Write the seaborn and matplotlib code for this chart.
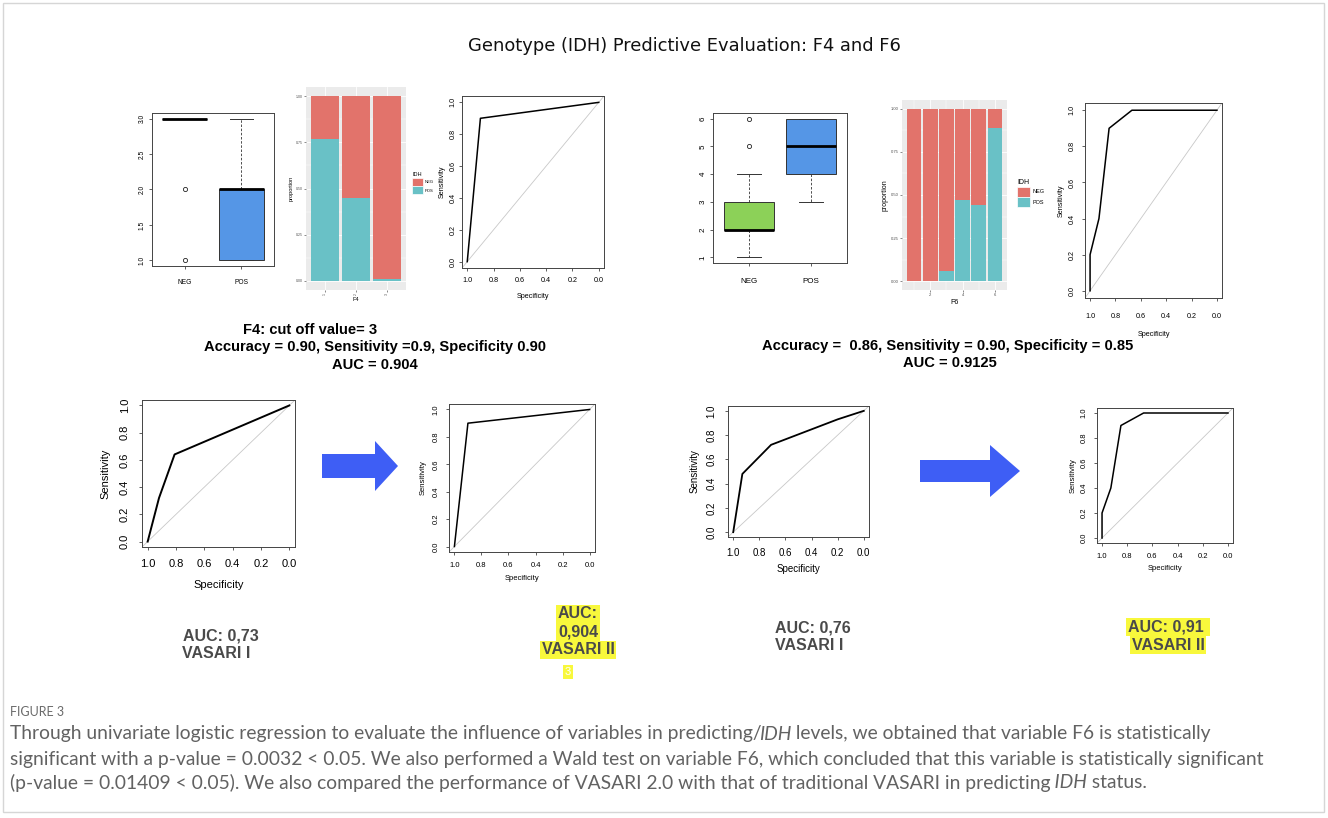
import matplotlib
matplotlib.use('Agg')
import matplotlib.pyplot as plt
from matplotlib import font_manager
from matplotlib.patches import FancyArrow, Patch, Rectangle
import numpy as np
import pandas as pd
import seaborn as sns

W, H = 1328, 818

# ---- values ----
groups = ['NEG', 'POS']
# raw scores behind the two boxplots
f4_neg = [3] * 12 + [2, 1]
f4_pos = [1] * 5 + [2] * 8 + [3]
f6_neg = [1, 1, 2, 2, 2, 2, 2, 2, 3, 3, 3, 3, 4, 5, 6]
f6_pos = [3, 4, 4, 4, 5, 5, 5, 6, 6, 6, 6]

# proportion of IDH status per level
f4_levels = [1, 2, 3]
f4_prop_pos = [0.77, 0.45, 0.01]
f4_prop_neg = [0.23, 0.55, 0.99]
f6_levels = [1, 2, 3, 4, 5, 6]
f6_prop_pos = [0.0, 0.0, 0.06, 0.47, 0.44, 0.89]
f6_prop_neg = [1.0, 1.0, 0.94, 0.53, 0.56, 0.11]

# ROC curves (specificity, sensitivity)
roc_f4_spec = [1.0, 0.9, 0.0]
roc_f4_sens = [0.0, 0.9, 1.0]
roc_f6_spec = [1.0, 1.0, 0.93, 0.85, 0.67, 0.0]
roc_f6_sens = [0.0, 0.2, 0.4, 0.9, 1.0, 1.0]
roc_v1_f4_spec = [1.0, 0.92, 0.81, 0.0]
roc_v1_f4_sens = [0.0, 0.32, 0.64, 1.0]
roc_v1_f6_spec = [1.0, 0.93, 0.71, 0.2, 0.0]
roc_v1_f6_sens = [0.0, 0.48, 0.72, 0.93, 1.0]

roc_ticks = [1.0, 0.8, 0.6, 0.4, 0.2, 0.0]
prop_ticks = [0.0, 0.25, 0.5, 0.75, 1.0]

NEG_C = '#E2736B'
POS_C = '#69C1C6'
BLUE_BOX = '#5596E6'
GREEN_BOX = '#8CD158'

available = {f.name for f in font_manager.fontManager.ttflist}
NARROW = 'Liberation Sans Narrow' if 'Liberation Sans Narrow' in available else None

plt.rcParams['font.family'] = ['Liberation Sans', 'DejaVu Sans']

fig = plt.figure(figsize=(W / 100, H / 100), dpi=100)


def box(x0, y0, x1, y1):
    """pixel box (top-left origin) -> figure fraction rect"""
    return [x0 / W, 1 - y1 / H, (x1 - x0) / W, (y1 - y0) / H]


def r_axes(rect, fs, pad=2):
    ax = fig.add_axes(box(*rect))
    for s in ax.spines.values():
        s.set_color('#444444')
        s.set_linewidth(0.7)
    ax.tick_params(direction='out', length=2.5, width=0.6, color='#444444', pad=pad, labelsize=fs)
    return ax


def roc_panel(rect, spec, sens, fs, xd, yd, lw=1.1, xpad=None, ypad=None):
    """R/pROC style ROC plot; xd, yd = pixel distance of axis titles from the frame"""
    ax = r_axes(rect, fs, pad=fs * 0.8)
    if xpad is not None:
        ax.tick_params(axis='x', pad=xpad)
    if ypad is not None:
        ax.tick_params(axis='y', pad=ypad)
    ax.axline((1, 0), (0, 1), color='#c8c8c8', lw=0.6)
    sns.lineplot(x=spec, y=sens, sort=False, estimator=None, color='black', lw=lw, ax=ax)
    ax.set_xlim(1.04, -0.04)
    ax.set_ylim(-0.04, 1.04)
    ax.set_xticks(roc_ticks)
    ax.set_xticklabels([f'{t:.1f}' for t in roc_ticks])
    ax.set_yticks(roc_ticks)
    ax.set_yticklabels([f'{t:.1f}' for t in roc_ticks], rotation=90, va='center')
    ax.set_xlabel('Specificity', fontsize=fs, va='center')
    ax.set_ylabel('Sensitivity', fontsize=fs, va='center', ha='center')
    w, h = rect[2] - rect[0], rect[3] - rect[1]
    ax.xaxis.set_label_coords(0.5, -xd / h)
    ax.yaxis.set_label_coords(-yd / w, 0.5)
    return ax


def r_boxplot(rect, neg, pos, colors, yticks, ylim, fmt, fs):
    ax = r_axes(rect, fs)
    df = pd.DataFrame({'IDH': ['NEG'] * len(neg) + ['POS'] * len(pos),
                       'score': neg + pos})
    sns.boxplot(data=df, x='IDH', y='score', hue='IDH', palette=colors, legend=False,
                saturation=1, width=0.8, linecolor='#333333', linewidth=0.7, ax=ax,
                medianprops=dict(color='black', linewidth=2.0),
                whiskerprops=dict(linestyle=(0, (3, 2)), linewidth=0.6),
                capprops=dict(linewidth=0.7),
                flierprops=dict(marker='o', markerfacecolor='none', markeredgecolor='#222222',
                                markeredgewidth=0.6, markersize=3))
    ax.set_xlim(-0.58, 1.58)
    ax.set_ylim(*ylim)
    ax.set_yticks(yticks)
    ax.set_yticklabels([fmt.format(t) for t in yticks], rotation=90, va='center')
    ax.set_xlabel('')
    ax.set_ylabel('')
    ax.tick_params(axis='x', pad=fs * 1.4)
    return ax


def gg_panel(rect, levels, pos, neg, xlim, xticks, xlabel, fs_tick, fs_lab, minor_x, rot):
    ax = fig.add_axes(box(*rect))
    ax.set_facecolor('#EBEBEB')
    for s in ax.spines.values():
        s.set_visible(False)
    tops = np.add(pos, neg)
    sns.barplot(x=levels, y=tops, color=NEG_C, saturation=1, width=0.9, native_scale=True,
                errorbar=None, linewidth=0, ax=ax)
    sns.barplot(x=levels, y=pos, color=POS_C, saturation=1, width=0.9, native_scale=True,
                errorbar=None, linewidth=0, ax=ax)
    ax.set_xlim(*xlim)
    ax.set_ylim(-0.05, 1.05)
    ax.set_xticks(xticks)
    ax.set_xticklabels([str(t) for t in xticks], rotation=rot)
    ax.set_yticks(prop_ticks)
    ax.set_yticklabels([f'{t:.2f}' for t in prop_ticks])
    ax.set_yticks([0.125, 0.375, 0.625, 0.875], minor=True)
    if minor_x:
        ax.set_xticks(minor_x, minor=True)
    ax.tick_params(which='major', length=1.5, width=0.4, color='#333333', labelcolor='#4d4d4d',
                   labelsize=fs_tick, pad=1)
    ax.tick_params(which='minor', length=0)
    ax.set_axisbelow(True)
    ax.grid(True, which='major', color='white', lw=0.6)
    ax.grid(True, which='minor', color='white', lw=0.3)
    ax.set_xlabel(xlabel, fontsize=fs_lab, labelpad=1)
    ax.set_ylabel('proportion', fontsize=fs_lab, labelpad=1.5)
    return ax


def gg_legend(ax, x, y, fs_title, fs, key):
    handles = [Patch(facecolor=NEG_C, edgecolor='white', lw=0.5),
               Patch(facecolor=POS_C, edgecolor='white', lw=0.5)]
    leg = ax.legend(handles, groups, title='IDH', loc='upper left',
                    bbox_to_anchor=(x / W, 1 - y / H), bbox_transform=fig.transFigure,
                    frameon=False, fontsize=fs, title_fontsize=fs_title, alignment='left',
                    handlelength=key, handleheight=key, labelspacing=0.15, handletextpad=0.5,
                    borderpad=0, borderaxespad=0)
    return leg


# ---- top row ----
r_boxplot((152, 113, 274, 266), f4_neg, f4_pos, {'NEG': BLUE_BOX, 'POS': BLUE_BOX},
          [1.0, 1.5, 2.0, 2.5, 3.0], (0.92, 3.08), '{:.1f}', 4.8)
ax_f4 = gg_panel((306, 87, 406, 290), f4_levels, f4_prop_pos, f4_prop_neg, (0.4, 3.6),
                 f4_levels, 'F4', 2.5, 4, None, 90)
gg_legend(ax_f4, 412, 172, 4, 3, 2.6)
roc_panel((462, 96, 604, 268), roc_f4_spec, roc_f4_sens, 5.2, 29, 20, ypad=1.5)

r_boxplot((713, 113, 847, 263), f6_neg, f6_pos, {'NEG': GREEN_BOX, 'POS': BLUE_BOX},
          [1, 2, 3, 4, 5, 6], (0.8, 6.2), '{:d}', 5.8)
ax_f6 = gg_panel((902, 100, 1007, 290), f6_levels, f6_prop_pos, f6_prop_neg, (0.255, 6.745),
                 [2, 4, 6], 'F6', 3, 5, [1, 3, 5], 0)
gg_legend(ax_f6, 1017, 179, 5, 4, 2.3)
roc_panel((1085, 103, 1222, 298), roc_f6_spec, roc_f6_sens, 5.2, 36, 24, xpad=8)

# ---- bottom row ----
roc_panel((142, 400, 295, 547), roc_v1_f4_spec, roc_v1_f4_sens, 8, 38, 37, lw=1.4)
roc_panel((449, 404, 595, 552), roc_f4_spec, roc_f4_sens, 5.5, 27, 26)
roc_panel((728, 406, 869, 537), roc_v1_f6_spec, roc_v1_f6_sens, 7, 32, 33, lw=1.3)
roc_panel((1097, 408, 1233, 543), roc_f6_spec, roc_f6_sens, 5.5, 25, 24)

# ---- overlay for text, arrows and frame ----
ov = fig.add_axes([0, 0, 1, 1], zorder=5)
ov.set_xlim(0, W)
ov.set_ylim(H, 0)
ov.axis('off')

ov.add_patch(Rectangle((3, 3), W - 7, H - 9, fill=False, edgecolor='#d6d6d6', lw=1))

ov.text(684, 46, 'Genotype (IDH) Predictive Evaluation: F4 and F6', ha='center', va='center',
        fontsize=12.9, family='DejaVu Sans', color='#111111')

if NARROW:
    bold_kw = dict(family=NARROW, fontsize=10.5, fontweight='bold')
else:
    bold_kw = dict(family='Liberation Sans', fontsize=10.6, fontweight='bold')
ov.text(310, 330, 'F4: cut off value= 3', ha='center', va='center', **bold_kw)
ov.text(375, 347, 'Accuracy = 0.90, Sensitivity =0.9, Specificity 0.90', ha='center', va='center', **bold_kw)
ov.text(375, 365, 'AUC = 0.904', ha='center', va='center', **bold_kw)
ov.text(948, 346, 'Accuracy =  0.86, Sensitivity = 0.90, Specificity = 0.85', ha='center', va='center', **bold_kw)
ov.text(950, 363, 'AUC = 0.9125', ha='center', va='center', **bold_kw)

# arrows
ARROW_C = '#3E5EF5'
ov.add_patch(FancyArrow(322, 466, 76, 0, width=24, head_width=50, head_length=23,
                        length_includes_head=True, color=ARROW_C, lw=0))
ov.add_patch(FancyArrow(920, 471, 100, 0, width=22, head_width=52, head_length=30,
                        length_includes_head=True, color=ARROW_C, lw=0))

# AUC labels
auc_kw = dict(fontsize=11.5, fontweight='bold', color='#4a4a4a', va='center')
hl = dict(facecolor='#F8F83C', edgecolor='none', pad=1.2)
ov.text(183, 636, 'AUC: 0,73', ha='left', **auc_kw)
ov.text(182, 653, 'VASARI I', ha='left', **auc_kw)
ov.text(578, 614, 'AUC:', ha='center', bbox=hl, **auc_kw)
ov.text(578, 632, '0,904', ha='center', bbox=hl, **auc_kw)
ov.text(578, 650, 'VASARI II', ha='center', bbox=hl, **auc_kw)
ov.text(568, 672, '3', ha='center', va='center', fontsize=8, color='white',
        bbox=dict(facecolor='#F8F83C', edgecolor='none', pad=1.5))
ov.text(775, 628, 'AUC: 0,76', ha='left', **auc_kw)
ov.text(775, 646, 'VASARI I', ha='left', **auc_kw)
ov.text(1168, 627, 'AUC: 0,91 ', ha='center', bbox=hl, **auc_kw)
ov.text(1168, 645, 'VASARI II', ha='center', bbox=hl, **auc_kw)

# caption
if NARROW:
    cap_kw = dict(family=NARROW, fontsize=15, color='#5f5f5f', va='center')
    fig_kw = dict(family=NARROW, fontsize=10.5, color='#6a6a6a', va='center')
else:
    cap_kw = dict(family='Lato', fontsize=13.9, color='#626262', va='center')
    fig_kw = dict(family='Lato', fontsize=9, color='#6a6a6a', va='center')
ov.text(10, 712, 'FIGURE 3', **fig_kw)

renderer = fig.canvas.get_renderer()


def text_runs(x, y, parts):
    for s, style in parts:
        if style == 'italic' and not s.startswith(' '):
            x -= 3
        t = ov.text(x, y, s, style=style, **cap_kw)
        x += t.get_window_extent(renderer=renderer).width


text_runs(10, 734, [('Through univariate logistic regression to evaluate the influence of variables in predicting/', 'normal'),
                    ('IDH', 'italic'),
                    (' levels, we obtained that variable F6 is statistically', 'normal')])
text_runs(10, 759, [('significant with a p-value = 0.0032 < 0.05. We also performed a Wald test on variable F6, '
                     'which concluded that this variable is statistically significant', 'normal')])
text_runs(10, 783, [('(p-value = 0.01409 < 0.05). We also compared the performance of VASARI 2.0 with that of '
                     'traditional VASARI in predicting', 'normal'),
                    (' IDH', 'italic'),
                    (' status.', 'normal')])

fig.savefig('out.png', dpi=100, facecolor='white')
